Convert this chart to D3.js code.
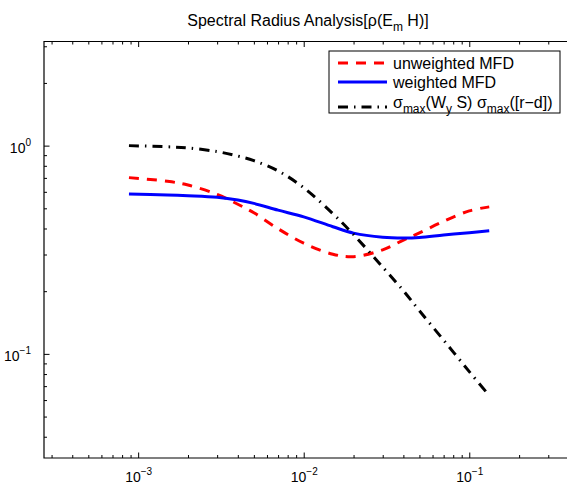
<!DOCTYPE html>
<meta charset="utf-8">
<style>
  body { margin: 0; background: #fff; }
  text { font-family: "Liberation Sans", Arial, sans-serif; }
</style>
<body>
<script src="https://d3js.org/d3.v7.min.js"></script>
<script>
// values
var xVals = [8.8e-4, 1.5e-3, 2e-3, 3e-3, 4e-3, 5e-3, 7e-3, 1e-2, 1.5e-2, 2e-2, 3e-2, 4e-2, 5e-2, 7e-2, 1e-1, 1.32e-1];
var unweighted = [0.702, 0.674, 0.647, 0.583, 0.523, 0.476, 0.399, 0.340, 0.301, 0.293, 0.316, 0.352, 0.381, 0.433, 0.486, 0.508];
var weighted = [0.585, 0.580, 0.575, 0.565, 0.548, 0.528, 0.490, 0.455, 0.408, 0.380, 0.363, 0.360, 0.362, 0.372, 0.382, 0.390];
var bound = [1.0, 0.987, 0.975, 0.936, 0.891, 0.847, 0.756, 0.628, 0.471, 0.374, 0.261, 0.201, 0.161, 0.1164, 0.0822, 0.0631];

var xMajor = [1e-3, 1e-2, 1e-1];
var xExp = ["\u22123", "\u22122", "\u22121"];
var yMajor = [1e-1, 1e0];
var yExp = ["\u22121", "0"];

var margin = {top: 41.5, right: 0, bottom: 32, left: 44},
    W = 567, H = 490,
    width = 541,
    height = H - margin.top - margin.bottom,
    x = d3.scaleLog().domain([2.7e-4, 0.5]).range([0, width]),
    y = d3.scaleLog().domain([10 ** -1.5, 10 ** 0.5]).range([height, 0]);

// minor ticks 2..9 of every decade inside the domain
function minors(scale) {
  var d = scale.domain(), out = [];
  for (var e = -5; e <= 2; e++) {
    for (var k = 2; k <= 9; k++) {
      var v = k * Math.pow(10, e);
      if (v > d[0] && v < d[1]) out.push(v);
    }
  }
  return out;
}

var svg = d3.select("body").append("svg")
    .attr("width", W)
    .attr("height", H);

var g = svg.append("g")
    .attr("transform", "translate(" + margin.left + "," + margin.top + ")");

g.append("clipPath").attr("id", "clip")
  .append("rect").attr("width", width).attr("height", height);

// axes, ticks pointing inward like matlab
function styleAxis(sel) {
  sel.select(".domain").remove();
  sel.selectAll("line").attr("stroke", "#000").attr("stroke-width", 1);
}

g.append("g").attr("transform", "translate(0," + height + ")")
  .call(d3.axisBottom(x).tickValues(minors(x)).tickSize(-3).tickFormat(""))
  .call(styleAxis);
var xAx = g.append("g").attr("class", "x axis").attr("transform", "translate(0," + height + ")")
  .call(d3.axisBottom(x).tickValues(xMajor).tickSize(-5.5).tickPadding(24))
  .call(styleAxis);
g.append("g")
  .call(d3.axisTop(x).tickValues(minors(x)).tickSize(-3).tickFormat(""))
  .call(styleAxis);
g.append("g")
  .call(d3.axisTop(x).tickValues(xMajor).tickSize(-5.5).tickFormat(""))
  .call(styleAxis);

g.append("g")
  .call(d3.axisLeft(y).tickValues(minors(y)).tickSize(-3).tickFormat(""))
  .call(styleAxis);
var yAx = g.append("g").attr("class", "y axis")
  .call(d3.axisLeft(y).tickValues(yMajor).tickSize(-5.5).tickPadding(13))
  .call(styleAxis);
g.append("g").attr("transform", "translate(" + width + ",0)")
  .call(d3.axisRight(y).tickValues(minors(y)).tickSize(-3).tickFormat(""))
  .call(styleAxis);

// 10^n labels with superscripts
xAx.selectAll(".tick text").each(function(d, i) {
  var t = d3.select(this).text("").attr("fill", "#000").attr("font-size", 14)
    .attr("text-anchor", "middle").attr("y", 0).attr("dy", 0)
    .attr("transform", "translate(0,24)");
  t.append("tspan").text("10");
  t.append("tspan").attr("dy", -7).attr("font-size", 10).text(xExp[i]);
});
yAx.selectAll(".tick text").each(function(d, i) {
  var t = d3.select(this).text("").attr("fill", "#000").attr("font-size", 14)
    .attr("text-anchor", "end").attr("dy", 0).attr("y", 7);
  t.append("tspan").text("10");
  t.append("tspan").attr("dy", -7).attr("font-size", 10).text(yExp[i]);
});

// frame
g.append("path")
  .attr("d", "M" + width + ",0H0V" + height + "H" + width)
  .attr("fill", "none").attr("stroke", "#000").attr("stroke-width", 1.2);

// curves
var series = [
  {name: "unweighted MFD", vals: unweighted, color: "#ff0000", dash: "10,8"},
  {name: "weighted MFD", vals: weighted, color: "#0000ff", dash: null},
  {name: "bound", vals: bound, color: "#000000", dash: "10,6,1.5,6"}
];

var line = d3.line()
  .x(function(d) { return x(d[0]); })
  .y(function(d) { return y(d[1]); })
  .curve(d3.curveCatmullRom.alpha(0.5));

g.append("g").attr("clip-path", "url(#clip)")
  .selectAll("path").data(series).enter().append("path")
  .attr("d", function(s) { return line(xVals.map(function(v, i) { return [v, s.vals[i]]; })); })
  .attr("fill", "none")
  .attr("stroke", function(s) { return s.color; })
  .attr("stroke-width", 3)
  .attr("stroke-dasharray", function(s) { return s.dash; });

// legend
var lg = svg.append("g").attr("transform", "translate(329,51)");
lg.append("rect").attr("width", 231).attr("height", 62)
  .attr("fill", "#fff").attr("stroke", "#000").attr("stroke-width", 1);
var rowsY = [12, 31, 56];
lg.selectAll("line.key").data(series).enter().append("line")
  .attr("x1", 9).attr("x2", 58)
  .attr("y1", function(s, i) { return rowsY[i]; })
  .attr("y2", function(s, i) { return rowsY[i]; })
  .attr("stroke", function(s) { return s.color; })
  .attr("stroke-width", 3)
  .attr("stroke-dasharray", function(s) { return s.dash; });

lg.append("text").attr("x", 64).attr("y", 18).attr("font-size", 16).text("unweighted MFD");
lg.append("text").attr("x", 64).attr("y", 37).attr("font-size", 16).text("weighted MFD");
var t3 = lg.append("text").attr("x", 64).attr("y", 57).attr("font-size", 16);
t3.append("tspan").text("\u03c3");
t3.append("tspan").attr("dy", 5).attr("font-size", 12).text("max");
t3.append("tspan").attr("dy", -5).text("(W");
t3.append("tspan").attr("dy", 5).attr("font-size", 12).text("y");
t3.append("tspan").attr("dy", -5).text(" S) \u03c3");
t3.append("tspan").attr("dy", 5).attr("font-size", 12).text("max");
t3.append("tspan").attr("dy", -5).text("([r\u2212d])");

// title
var tt = svg.append("text").attr("x", 308).attr("y", 26)
  .attr("text-anchor", "middle").attr("font-size", 16);
tt.append("tspan").text("Spectral Radius Analysis[\u03c1(E");
tt.append("tspan").attr("dy", 5).attr("font-size", 12).text("m");
tt.append("tspan").attr("dy", -5).text(" H)]");
</script>
</body>
